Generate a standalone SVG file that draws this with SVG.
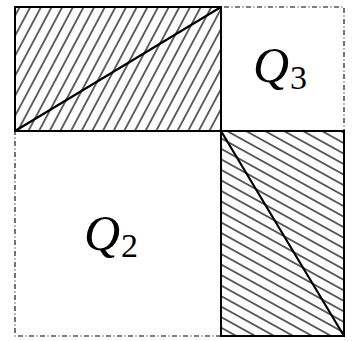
<svg xmlns="http://www.w3.org/2000/svg" width="352" height="341" viewBox="0 0 352 341">
<style>
.solid{fill:none;stroke:#000;stroke-width:2}
.dashdot{fill:none;stroke:#000;stroke-width:1.1;stroke-dasharray:5 2.5 1 2.5}
.diag{stroke:#000;stroke-width:2.2;fill:none}
.q{font-family:"Liberation Serif","DejaVu Serif",serif;font-style:italic;font-size:50px;fill:#000}
.sub{font-family:"Liberation Serif","DejaVu Serif",serif;font-size:34px;fill:#000}
</style>
<defs>
<pattern id="hatchA" patternUnits="userSpaceOnUse" width="40" height="9.4" patternTransform="translate(23,131) rotate(-62)">
<rect x="-1" y="4.1" width="42" height="1.2" fill="#000"/>
</pattern>
<pattern id="hatchB" patternUnits="userSpaceOnUse" width="40" height="9.2" patternTransform="translate(221,175) rotate(29)">
<rect x="-1" y="4" width="42" height="1.2" fill="#000"/>
</pattern>
</defs>
<rect x="0" y="0" width="352" height="341" fill="#fff"/>
<g id="outline">
<rect class="dashdot" x="15" y="7" width="329" height="329"/>
</g>
<g id="R1">
<rect x="15" y="7" width="206" height="124" fill="url(#hatchA)"/>
<rect class="solid" x="15" y="7" width="206" height="124"/>
<line class="diag" x1="15" y1="131" x2="221" y2="7"/>
</g>
<g id="R4">
<rect x="221" y="131" width="123" height="205" fill="url(#hatchB)"/>
<rect class="solid" x="221" y="131" width="123" height="205"/>
<line class="diag" x1="221" y1="131" x2="344" y2="336"/>
</g>
<g id="Q3">
<text x="253" y="82"><tspan class="q">Q</tspan><tspan class="sub" dx="1" dy="7">3</tspan></text>
</g>
<g id="Q2">
<text x="84" y="250"><tspan class="q">Q</tspan><tspan class="sub" dx="1" dy="7">2</tspan></text>
</g>
</svg>
